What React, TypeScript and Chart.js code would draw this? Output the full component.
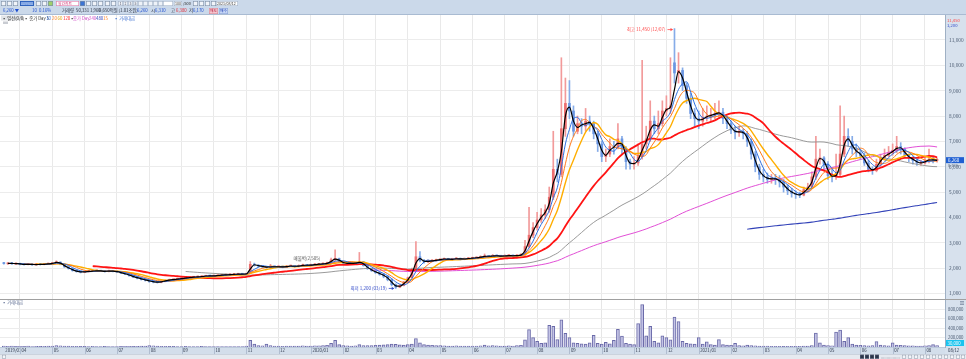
import React, { useEffect, useRef } from 'react';
import { Chart, registerables } from 'chart.js';

Chart.register(...registerables);

const FONT = '"Noto Sans CJK KR", "Noto Sans", sans-serif';

// ---- categories (month starts on the index axis, ~8 points per month) ----
const monthIdx = [0, 4, 12, 20, 28, 36, 44, 52, 60, 68, 76, 84, 92, 100, 108, 116, 124, 132, 140, 148, 156, 164, 172, 180, 188, 196, 204, 212, 220, 228];
const monthLabels = ['2019/03', '04', '05', '06', '07', '08', '09', '10', '11', '12', '2020/01', '02', '03', '04', '05', '06', '07', '08', '09', '10', '11', '12', '2021/01', '02', '03', '04', '05', '06', '07', '08'];

// ---- price series ----
const closes = [
  2180, 2200, 2170, 2190,
  2150, 2140, 2160, 2130, 2150, 2140, 2160, 2170,
  2200, 2250, 2150, 2050, 1980, 1900, 1860, 1840,
  1860, 1880, 1890, 1900, 1880, 1870, 1890, 1870,
  1850, 1800, 1760, 1700, 1650, 1600, 1560, 1520,
  1480, 1450, 1440, 1480, 1520, 1540, 1560, 1580,
  1600, 1620, 1640, 1650, 1660, 1680, 1700, 1690,
  1700, 1720, 1730, 1740, 1750, 1760, 1770, 1760,
  1780, 2150, 2120, 2080, 2050, 2030, 2060, 2050,
  2060, 2040, 2080, 2090, 2060, 2100, 2120, 2110,
  2130, 2150, 2160, 2180, 2200, 2330, 2380, 2250,
  2200, 2180, 2190, 2200, 2250, 2100, 1980, 1900,
  1820, 1760, 1680, 1550, 1350, 1250, 1320, 1450,
  1620, 1950, 2450, 2300, 2250, 2280, 2300, 2320,
  2350, 2370, 2340, 2360, 2380, 2350, 2370, 2390,
  2400, 2420, 2450, 2480, 2460, 2500, 2480, 2470,
  2490, 2500, 2480, 2510, 2520, 2850, 3300, 3600,
  3900, 4100, 4300, 4800, 5900, 5700, 7500, 8500,
  8200, 7400, 7700, 7600, 7800, 7700, 7300, 6900,
  6400, 6500, 6800, 6750, 7100, 6700, 6200, 6100,
  6150, 6400, 6900, 7100, 7800, 7500, 7700, 8200,
  8300, 8400, 9700, 9800, 9200, 8700, 8100, 7900,
  7800, 7950, 8000, 8050, 8100, 8150, 7900, 7700,
  7450, 7350, 7400, 7300, 7000, 6500, 6000, 5700,
  5600, 5500, 5550, 5500, 5400, 5200, 5050, 4950,
  4900, 4880, 5100, 5200, 5600, 6300, 6350, 6100,
  5650, 5600, 5700, 6500, 7200, 7000, 6700, 6550,
  6450, 6150, 5900, 5850, 6100, 6350, 6450, 6550,
  6650, 6800, 6700, 6450, 6350, 6250, 6150, 6150,
  6230, 6300, 6250, 6260,
];
const opens = [
  2200, 2170, 2210, 2160,
  2190, 2150, 2140, 2160, 2130, 2150, 2140, 2160,
  2170, 2200, 2240, 2150, 2050, 1980, 1910, 1870,
  1840, 1860, 1880, 1890, 1900, 1880, 1870, 1890,
  1870, 1850, 1800, 1760, 1700, 1650, 1600, 1560,
  1520, 1480, 1450, 1440, 1480, 1520, 1540, 1560,
  1580, 1600, 1620, 1640, 1650, 1660, 1680, 1700,
  1690, 1700, 1720, 1730, 1740, 1750, 1760, 1770,
  1760, 1790, 2150, 2120, 2080, 2050, 2030, 2060,
  2050, 2060, 2040, 2080, 2090, 2060, 2100, 2120,
  2110, 2130, 2150, 2160, 2180, 2200, 2330, 2380,
  2250, 2200, 2180, 2190, 2200, 2250, 2100, 1980,
  1900, 1820, 1760, 1680, 1550, 1350, 1250, 1320,
  1450, 1620, 1950, 2450, 2300, 2250, 2280, 2300,
  2320, 2350, 2370, 2340, 2360, 2380, 2350, 2370,
  2390, 2400, 2420, 2450, 2480, 2460, 2500, 2480,
  2470, 2490, 2500, 2480, 2510, 2520, 2850, 3300,
  3600, 3900, 4100, 4300, 4800, 5900, 5700, 7500,
  8500, 8200, 7400, 7700, 7600, 7800, 7700, 7300,
  6900, 6400, 6500, 6800, 6750, 7100, 6700, 6200,
  6100, 6150, 6400, 6900, 7100, 7800, 7500, 7700,
  8200, 8300, 10100, 9700, 9800, 9200, 8700, 8100,
  7900, 7800, 7950, 8000, 8050, 8100, 8150, 7900,
  7700, 7450, 7350, 7400, 7300, 7000, 6500, 6000,
  5700, 5600, 5500, 5550, 5500, 5400, 5200, 5050,
  4950, 4900, 4880, 5100, 5200, 5600, 6300, 6350,
  6100, 5650, 5600, 5700, 6500, 7200, 7000, 6700,
  6550, 6450, 6150, 5900, 5850, 6100, 6350, 6450,
  6550, 6650, 6800, 6700, 6450, 6350, 6250, 6150,
  6150, 6230, 6300, 6250,
];
const highs = [
  2230, 2220, 2230, 2210,
  2200, 2170, 2180, 2170, 2170, 2170, 2180, 2200,
  2230, 2290, 2250, 2160, 2070, 1990, 1930, 1880,
  1890, 1910, 1920, 1930, 1910, 1900, 1920, 1900,
  1890, 1870, 1820, 1780, 1720, 1680, 1620, 1580,
  1540, 1500, 1470, 1500, 1540, 1570, 1580, 1600,
  1620, 1650, 1660, 1670, 1690, 1700, 1720, 1720,
  1720, 1740, 1750, 1760, 1770, 1790, 1790, 1790,
  1800, 2260, 2200, 2140, 2100, 2080, 2150, 2090,
  2090, 2080, 2110, 2120, 2100, 2130, 2160, 2150,
  2160, 2180, 2190, 2210, 2240, 2400, 2720, 2400,
  2270, 2230, 2210, 2220, 2620, 2270, 2120, 2000,
  1930, 1850, 1790, 1700, 1580, 1380, 1350, 1480,
  1650, 2000, 3050, 2650, 2350, 2320, 2340, 2360,
  2380, 2400, 2390, 2390, 2420, 2400, 2400, 2420,
  2430, 2450, 2490, 2560, 2500, 2540, 2520, 2500,
  2520, 2530, 2520, 2540, 2560, 3100, 4400, 3800,
  4200, 4350, 4500, 5200, 7400, 6300, 10300, 9500,
  9400, 8400, 8000, 7900, 8300, 8000, 7800, 7400,
  7000, 6700, 7100, 7000, 7700, 7200, 6800, 6300,
  6400, 6900, 10200, 7600, 8600, 8000, 8200, 8600,
  8800, 10300, 11450, 10500, 9900, 9300, 8900, 8300,
  8200, 8300, 8400, 8300, 8500, 8600, 8300, 8000,
  7800, 7600, 7600, 7500, 7400, 7100, 6600, 6100,
  5900, 5750, 5700, 5700, 5650, 5500, 5300, 5150,
  5050, 5000, 5200, 5350, 5800, 7200, 6700, 6400,
  6200, 5900, 6500, 8400, 8000, 7500, 7200, 6900,
  6700, 6550, 6250, 6000, 6300, 6500, 6700, 6800,
  6900, 7200, 6950, 6750, 6500, 6400, 6300, 6250,
  6350, 6700, 6400, 6350,
];
const lows = [
  2160, 2150, 2150, 2150,
  2130, 2120, 2130, 2110, 2120, 2120, 2130, 2150,
  2160, 2190, 2130, 2030, 1960, 1880, 1840, 1810,
  1820, 1840, 1860, 1870, 1860, 1840, 1850, 1850,
  1830, 1780, 1740, 1680, 1620, 1580, 1530, 1490,
  1440, 1420, 1410, 1420, 1460, 1500, 1520, 1540,
  1560, 1580, 1600, 1610, 1630, 1640, 1660, 1670,
  1670, 1680, 1700, 1710, 1720, 1730, 1740, 1740,
  1750, 1780, 2080, 2050, 2020, 2000, 2010, 2020,
  2020, 2010, 2030, 2060, 2030, 2050, 2080, 2080,
  2090, 2110, 2120, 2140, 2160, 2190, 2290, 2230,
  2170, 2150, 2160, 2170, 2190, 2080, 1950, 1870,
  1790, 1720, 1620, 1500, 1300, 1200, 1230, 1300,
  1420, 1600, 1940, 2250, 2200, 2220, 2250, 2280,
  2300, 2320, 2320, 2310, 2340, 2320, 2330, 2360,
  2360, 2380, 2400, 2430, 2430, 2450, 2450, 2440,
  2450, 2460, 2450, 2470, 2480, 2500, 2800, 3200,
  3500, 3800, 3950, 4200, 4700, 5400, 5600, 7200,
  7900, 7200, 7300, 7300, 7400, 7400, 7100, 6600,
  6200, 6200, 6400, 6500, 6700, 6500, 5900, 5900,
  5900, 6050, 6300, 6700, 7000, 7300, 7300, 7600,
  8000, 8100, 9300, 9300, 9000, 8500, 7900, 7600,
  7500, 7600, 7800, 7800, 7900, 7900, 7700, 7500,
  7300, 7100, 7200, 7100, 6800, 6300, 5800, 5500,
  5400, 5350, 5350, 5300, 5200, 5000, 4900, 4800,
  4750, 4780, 4850, 5000, 5150, 5500, 6100, 5900,
  5500, 5400, 5500, 5650, 6400, 6800, 6500, 6400,
  6300, 6050, 5800, 5700, 5800, 6000, 6300, 6400,
  6450, 6550, 6500, 6350, 6200, 6100, 6050, 6050,
  6100, 6150, 6150, 6180,
];
const volumes = [
  20000, 15000, 18000, 12000,
  15000, 12000, 18000, 10000, 14000, 12000, 16000, 20000,
  22000, 30000, 25000, 20000, 18000, 15000, 14000, 12000,
  12000, 10000, 14000, 11000, 9000, 12000, 10000, 9000,
  10000, 12000, 15000, 14000, 12000, 16000, 18000, 20000,
  30000, 25000, 18000, 15000, 14000, 12000, 12000, 10000,
  10000, 12000, 11000, 10000, 9000, 12000, 11000, 10000,
  9000, 10000, 8000, 9000, 10000, 11000, 9000, 10000,
  20000, 140000, 60000, 30000, 25000, 60000, 30000, 20000,
  18000, 15000, 20000, 22000, 18000, 20000, 25000, 20000,
  22000, 25000, 24000, 30000, 35000, 80000, 140000, 50000,
  30000, 25000, 22000, 25000, 50000, 30000, 28000, 30000,
  35000, 40000, 45000, 50000, 60000, 55000, 45000, 40000,
  50000, 60000, 180000, 90000, 50000, 40000, 35000, 30000,
  30000, 25000, 22000, 20000, 25000, 22000, 20000, 18000,
  20000, 22000, 25000, 40000, 25000, 30000, 25000, 20000,
  22000, 25000, 20000, 30000, 35000, 150000, 370000, 200000,
  120000, 80000, 90000, 460000, 440000, 157000, 580000, 290000,
  200000, 90000, 80000, 70000, 60000, 90000, 250000, 80000,
  60000, 100000, 70000, 140000, 375000, 235000, 80000, 60000,
  50000, 500000, 905000, 240000, 440000, 120000, 90000, 240000,
  200000, 150000, 636000, 540000, 120000, 80000, 70000, 60000,
  200000, 60000, 110000, 50000, 40000, 160000, 50000, 40000,
  35000, 80000, 30000, 25000, 40000, 30000, 25000, 20000,
  20000, 18000, 15000, 14000, 15000, 12000, 14000, 15000,
  15000, 14000, 18000, 20000, 30000, 297000, 90000, 40000,
  30000, 25000, 320000, 360000, 120000, 200000, 60000, 40000,
  35000, 30000, 25000, 30000, 115000, 40000, 30000, 25000,
  90000, 40000, 35000, 30000, 25000, 25000, 20000, 22000,
  25000, 30000, 50000, 30000,
];

// ---- axis ticks / labels ----
const priceTicks = [1000, 2000, 3000, 4000, 5000, 6000, 7000, 8000, 9000, 10000, 11000];
const volTicks = [200000, 400000, 600000, 800000];
const maPeriods = [2, 4, 6, 9, 23, 46, 92, 185];
const peakDate = '12/07';
const lowDate = '03/19';
const resistText = '매물벽(2,505)';
const resistIdx = 75;
const resistPrice = 2400;
const lastDate = '08/12';

const X_MIN = -0.95;
const X_MAX = 232.96;

const fmt = (v: number) => Math.round(v).toLocaleString('en-US');

function sma(src: number[], n: number) {
  const out: { x: number; y: number }[] = [];
  let sum = 0;
  for (let i = 0; i < src.length; i++) {
    sum += src[i];
    if (i >= n) sum -= src[i - n];
    if (i >= n - 1) out.push({ x: i, y: sum / n });
  }
  return out;
}

const maStyles = [
  { color: '#000000', width: 1.2 },
  { color: '#2f6fe0', width: 1 },
  { color: '#ff7a1a', width: 1 },
  { color: '#ffae00', width: 1.4 },
  { color: '#ff1414', width: 1.8 },
  { color: '#8f8f8f', width: 0.9 },
  { color: '#e24fd6', width: 1 },
  { color: '#3242b8', width: 1.1 },
];

const isUp = (i: number) => closes[i] >= opens[i];

const xScaleBase = (gridColor: string) => ({
  type: 'linear' as const,
  min: X_MIN,
  max: X_MAX,
  offset: false,
  ticks: { display: false },
  grid: { color: gridColor, drawTicks: false, offset: false, lineWidth: 1 },
  border: { display: false },
  afterBuildTicks: (s: any) => {
    s.ticks = monthIdx.filter((v) => v > 0).map((v) => ({ value: v }));
  },
});

function drawText(ctx: CanvasRenderingContext2D, s: string, x: number, y: number, color: string, size = 4.5, align: CanvasTextAlign = 'left') {
  ctx.font = `${size}px ${FONT}`;
  ctx.fillStyle = color;
  ctx.textAlign = align;
  ctx.textBaseline = 'middle';
  ctx.fillText(s, x, y);
}

function PriceChart() {
  const ref = useRef<HTMLCanvasElement>(null);
  useEffect(() => {
    const idx = closes.map((_, i) => i);
    const maxHigh = Math.max(...highs);
    const minLow = Math.min(...lows);
    const peakIdx = highs.indexOf(maxHigh);
    const lowIdx = lows.indexOf(minLow);

    const deco = {
      id: 'priceDeco',
      beforeDraw(chart: any) {
        const { ctx, chartArea: a, width, height } = chart;
        ctx.save();
        ctx.fillStyle = '#ffffff';
        ctx.fillRect(0, 0, width, height);
        ctx.fillStyle = '#d7e1ed';
        ctx.fillRect(a.right, 0, width - a.right, height);
        ctx.restore();
      },
      afterDatasetsDraw(chart: any) {
        const { ctx } = chart;
        const xs = chart.scales.x;
        const ys = chart.scales.y;
        ctx.save();
        const arrow = (px: number, py: number, color: string) => {
          ctx.strokeStyle = color;
          ctx.fillStyle = color;
          ctx.lineWidth = 0.8;
          ctx.beginPath();
          ctx.moveTo(px - 7, py);
          ctx.lineTo(px - 2, py);
          ctx.stroke();
          ctx.beginPath();
          ctx.moveTo(px - 1.5, py);
          ctx.lineTo(px - 4, py - 1.6);
          ctx.lineTo(px - 4, py + 1.6);
          ctx.closePath();
          ctx.fill();
        };
        let px = xs.getPixelForValue(peakIdx);
        let py = ys.getPixelForValue(maxHigh) + 1;
        drawText(ctx, `최고 ${fmt(maxHigh)} (${peakDate})`, px - 9, py, '#ff4a4a', 4.5, 'right');
        arrow(px, py, '#ff4a4a');
        px = xs.getPixelForValue(lowIdx);
        py = ys.getPixelForValue(minLow);
        drawText(ctx, `최저 ${fmt(minLow)} (${lowDate})`, px - 9, py, '#3048c8', 4.5, 'right');
        arrow(px, py, '#3048c8');
        drawText(ctx, resistText, xs.getPixelForValue(resistIdx), ys.getPixelForValue(resistPrice), '#555555', 4.5, 'center');
        ctx.restore();
      },
      afterDraw(chart: any) {
        const { ctx, chartArea: a, width } = chart;
        const ys = chart.scales.y;
        const last = closes[closes.length - 1];
        const prev = closes[closes.length - 2];
        const y = ys.getPixelForValue(last);
        ctx.save();
        ctx.fillStyle = '#1f5fd2';
        ctx.fillRect(a.right + 1, y - 3, width - a.right - 3, 6);
        drawText(ctx, fmt(last), a.right + 3, y + 0.3, '#ffffff', 4.5);
        drawText(ctx, `${(((last - prev) / prev) * 100).toFixed(2)}%`, a.right + 3, y + 5, '#5a6a80', 3.8);
        drawText(ctx, fmt(Math.max(...highs)), a.right + 2, 5, '#ff4a4a', 4.2);
        drawText(ctx, fmt(Math.min(...lows)), a.right + 2, 10, '#3048c8', 4.2);
        // legend row
        const ly = 3;
        ctx.fillStyle = '#e1e4e8';
        ctx.fillRect(1, 0.5, 22, 5);
        drawText(ctx, '▪ 일선(0/0)', 2, ly, '#333333', 4.3);
        drawText(ctx, '▪ 종가 Day 5', 24, ly, '#333333', 4.3);
        drawText(ctx, '10', 46, ly, '#2f6fe0', 4.3);
        drawText(ctx, '20', 52, ly, '#ff7a1a', 4.3);
        drawText(ctx, '60', 57.5, ly, '#e0a000', 4.3);
        drawText(ctx, '120', 63, ly, '#ff1414', 4.3);
        drawText(ctx, '▪', 70, ly, '#333333', 4.3);
        drawText(ctx, '종가 Day', 73, ly, '#d050c8', 4.3);
        drawText(ctx, '240', 89, ly, '#d050c8', 4.3);
        drawText(ctx, '480', 96, ly, '#3242b8', 4.3);
        drawText(ctx, '15', 103, ly, '#ff7a1a', 4.3);
        drawText(ctx, '▪ 거래대금', 114, ly, '#3b6fd0', 4.3);
        ctx.fillStyle = '#c9ccd2';
        ctx.fillRect(3, 6.5, 5, 2.5);
        ctx.restore();
      },
    };

    const maSets = maPeriods.map((p, k) => ({
      type: 'line' as const,
      data: sma(closes, p),
      borderColor: maStyles[k].color,
      borderWidth: maStyles[k].width,
      pointRadius: 0,
      cubicInterpolationMode: 'monotone' as const,
      fill: false,
      order: 2 + k,
    }));

    const chart = new Chart(ref.current!, {
      type: 'bar',
      data: {
        datasets: [
          ...maSets,
          {
            type: 'bar' as const,
            data: idx.map((i) => ({ x: i, y: [lows[i], highs[i]] })) as any,
            backgroundColor: (c: any) => (isUp(c.dataIndex) ? '#f29a9a' : '#86ace8'),
            barThickness: 1,
            grouped: false,
            order: 30,
          },
          {
            type: 'bar' as const,
            data: idx.map((i) => ({ x: i, y: [Math.min(opens[i], closes[i]), Math.max(opens[i], closes[i])] })) as any,
            backgroundColor: (c: any) => (isUp(c.dataIndex) ? '#ec6f6f' : '#6b96e2'),
            barThickness: 2,
            minBarLength: 1,
            grouped: false,
            order: 29,
          },
        ] as any,
      },
      options: {
        animation: false,
        responsive: false,
        maintainAspectRatio: false,
        layout: { padding: 0 },
        plugins: { legend: { display: false }, tooltip: { enabled: false } },
        scales: {
          x: xScaleBase('#e9e9e9') as any,
          y: {
            type: 'linear',
            position: 'right',
            min: 783,
            max: 11986,
            ticks: { font: { size: 4.8, family: FONT }, color: '#4a5a70', padding: 4, callback: (v: any) => fmt(Number(v)) },
            grid: { color: '#ececec', drawTicks: false },
            border: { display: true, color: '#9fb0c4' },
            afterBuildTicks: (s: any) => {
              s.ticks = priceTicks.map((v) => ({ value: v }));
            },
            afterFit: (s: any) => {
              s.width = 21;
              s.paddingTop = 0;
              s.paddingBottom = 0;
            },
          } as any,
        },
      },
      plugins: [deco],
    });
    return () => chart.destroy();
  }, []);
  return <canvas ref={ref} width={966} height={284} style={{ display: 'block', width: 966, height: 284 }} />;
}

function VolumeChart() {
  const ref = useRef<HTMLCanvasElement>(null);
  useEffect(() => {
    const deco = {
      id: 'volDeco',
      beforeDraw(chart: any) {
        const { ctx, chartArea: a, width, height } = chart;
        ctx.save();
        ctx.fillStyle = '#ffffff';
        ctx.fillRect(0, 0, width, height);
        ctx.fillStyle = '#d7e1ed';
        ctx.fillRect(a.right, 0, width - a.right, height);
        ctx.fillStyle = '#d3deeb';
        ctx.fillRect(0, a.bottom, a.right, height - a.bottom);
        ctx.restore();
      },
      afterDraw(chart: any) {
        const { ctx, chartArea: a, width, height } = chart;
        const xs = chart.scales.x;
        const ys = chart.scales.y;
        ctx.save();
        ctx.fillStyle = '#a0a0a0';
        ctx.fillRect(0, 0, width, 1);
        drawText(ctx, '▪ 거래대금', 2, 3.5, '#5a6a90', 4.3);
        ctx.fillStyle = '#aebcd0';
        ctx.fillRect(0, a.bottom, a.right, 0.6);
        const midY = a.bottom + (height - a.bottom) / 2;
        monthIdx.forEach((m, k) => {
          const x = xs.getPixelForValue(m);
          if (m > 0) {
            ctx.fillStyle = '#b0bdd0';
            ctx.fillRect(Math.round(x), a.bottom, 1, height - a.bottom);
          }
          drawText(ctx, monthLabels[k], Math.max(1, x + 1.5), midY, '#2a3448', 4.3);
        });
        const lastV = volumes[volumes.length - 1];
        const vy = Math.min(ys.getPixelForValue(lastV), a.bottom - 4);
        ctx.fillStyle = '#19c4ef';
        ctx.fillRect(a.right + 1, vy - 3, width - a.right - 3, 6);
        drawText(ctx, fmt(lastV), a.right + 2.5, vy, '#ffffff', 4.3);
        drawText(ctx, lastDate, a.right + 3, midY, '#2a3448', 4.3);
        ctx.fillStyle = '#7d8ca3';
        ctx.fillRect(width - 6, 2, 4, 0.8);
        ctx.fillRect(width - 6, 3.6, 4, 0.8);
        ctx.fillRect(width - 6, 5.2, 4, 0.8);
        ctx.restore();
      },
    };
    const chart = new Chart(ref.current!, {
      type: 'bar',
      data: {
        datasets: [
          {
            data: volumes.map((v, i) => ({ x: i, y: v })) as any,
            backgroundColor: '#c4c4e6',
            borderColor: '#6a6aa8',
            borderWidth: 1,
            barThickness: 3,
            grouped: false,
          },
        ],
      },
      options: {
        animation: false,
        responsive: false,
        maintainAspectRatio: false,
        layout: { padding: { top: 1, bottom: 7, left: 0, right: 0 } },
        plugins: { legend: { display: false }, tooltip: { enabled: false } },
        scales: {
          x: xScaleBase('#e6e6e6') as any,
          y: {
            type: 'linear',
            position: 'right',
            min: 0,
            max: 1000000,
            ticks: { font: { size: 4.3, family: FONT }, color: '#4a5a70', padding: 3, callback: (v: any) => fmt(Number(v)) },
            grid: { color: '#ececec', drawTicks: false },
            border: { display: true, color: '#9fb0c4' },
            afterBuildTicks: (s: any) => {
              s.ticks = volTicks.map((v) => ({ value: v }));
            },
            afterFit: (s: any) => {
              s.width = 21;
              s.paddingTop = 0;
              s.paddingBottom = 0;
            },
          } as any,
        },
      },
      plugins: [deco],
    });
    return () => chart.destroy();
  }, []);
  return <canvas ref={ref} width={966} height={55} style={{ display: 'block', width: 966, height: 55 }} />;
}

function Toolbar() {
  const ref = useRef<HTMLCanvasElement>(null);
  useEffect(() => {
    const ctx = ref.current!.getContext('2d')!;
    const last = closes[closes.length - 1];
    const prev = closes[closes.length - 2];
    const diff = last - prev;
    ctx.fillStyle = '#cbd9ea';
    ctx.fillRect(0, 0, 966, 15);
    ctx.fillStyle = '#a9bbd2';
    ctx.fillRect(0, 14, 966, 1);
    const box = (x: number, w: number, fill: string, stroke: string, y = 1, h = 5) => {
      ctx.fillStyle = fill;
      ctx.fillRect(x, y, w, h);
      ctx.strokeStyle = stroke;
      ctx.lineWidth = 0.6;
      ctx.strokeRect(x + 0.3, y + 0.3, w - 0.6, h - 0.6);
    };
    const icon = (x: number, fill = '#f1f4f9') => box(x, 5, fill, '#7b8da6');
    [1, 7, 13].forEach((x) => icon(x));
    box(20, 14, '#3b74d4', '#2a5ab0');
    drawText(ctx, '008800', 21, 3.6, '#ffffff', 3.6);
    icon(36);
    icon(42);
    icon(48, '#9fd06a');
    box(56, 23, '#ffffff', '#e07aa8');
    drawText(ctx, '일간차트', 58, 3.6, '#d0407a', 3.8);
    icon(80, '#3b74d4');
    [86, 92, 98, 105, 111].forEach((x) => icon(x));
    ['1', '2', '3', '5', '', '', '', '', ''].forEach((t, k) => {
      box(118 + k * 5, 5, '#eef2f8', '#a2b2c8');
      if (t) drawText(ctx, t, 120.5 + k * 5, 3.6, '#556', 3.6, 'center');
    });
    box(163, 10, '#ffffff', '#a2b2c8');
    box(174, 8, '#ffffff', '#a2b2c8');
    drawText(ctx, '100', 175, 3.6, '#333', 3.6);
    drawText(ctx, '/500', 183, 3.6, '#333', 3.8);
    [193, 199, 205, 211].forEach((x) => icon(x));
    box(216, 22, '#ffffff', '#a2b2c8');
    drawText(ctx, '2021/08/12', 217, 3.6, '#333', 3.6);

    const ry = 10.8;
    drawText(ctx, `${fmt(last)} ▼`, 3, ry, '#1f4fd0', 4.3);
    drawText(ctx, fmt(Math.abs(diff)), 32, ry, '#1f4fd0', 4.3);
    drawText(ctx, `${((diff / prev) * 100).toFixed(2)}%`, 39, ry, '#1f4fd0', 4.3);
    drawText(ctx, '거래량', 62, ry, '#2a3040', 4.3);
    drawText(ctx, '50,331', 76, ry, '#2a3040', 4.3);
    drawText(ctx, '1,960', 90, ry, '#2a3040', 4.3);
    drawText(ctx, '6,650억원 (1.01조원)', 99, ry, '#2a3040', 4.3);
    drawText(ctx, fmt(last), 137, ry, '#1f4fd0', 4.3);
    drawText(ctx, '시', 151, ry, '#2a3040', 4.3);
    drawText(ctx, '6,310', 155, ry, '#1f4fd0', 4.3);
    drawText(ctx, '고', 171, ry, '#2a3040', 4.3);
    drawText(ctx, '6,380', 176, ry, '#e0303a', 4.3);
    drawText(ctx, '저', 189, ry, '#2a3040', 4.3);
    drawText(ctx, '6,170', 193, ry, '#1f4fd0', 4.3);
    box(209, 9, '#f6c6cf', '#d88a98', 8, 6);
    drawText(ctx, '매도', 213.5, ry, '#b02040', 3.8, 'center');
    box(219, 9, '#c6d6f6', '#8aa2d8', 8, 6);
    drawText(ctx, '매수', 223.5, ry, '#2040b0', 3.8, 'center');
  }, []);
  return <canvas ref={ref} width={966} height={15} style={{ display: 'block', width: 966, height: 15 }} />;
}

function ScrollStrip() {
  const ref = useRef<HTMLCanvasElement>(null);
  useEffect(() => {
    const ctx = ref.current!.getContext('2d')!;
    ctx.fillStyle = '#e6eaf0';
    ctx.fillRect(0, 0, 966, 5);
    ctx.fillStyle = '#b9c3d0';
    ctx.fillRect(0, 0, 966, 0.6);
    const sq = (x: number, fill: string, stroke: string) => {
      ctx.fillStyle = fill;
      ctx.fillRect(x, 0.8, 4, 3.8);
      ctx.strokeStyle = stroke;
      ctx.lineWidth = 0.5;
      ctx.strokeRect(x + 0.25, 1.05, 3.5, 3.3);
    };
    sq(2, '#f4f6f9', '#8a96a8');
    [860, 865, 870, 875].forEach((x) => sq(x, '#2c3548', '#55607a'));
    ctx.strokeStyle = '#667';
    ctx.setLineDash([0.6, 0.6]);
    ctx.beginPath();
    ctx.moveTo(881, 4);
    ctx.lineTo(900, 4);
    ctx.stroke();
    ctx.setLineDash([]);
    [902, 908, 914, 920, 926, 932, 938, 944, 950, 956, 961].forEach((x) => sq(x, '#f4f6f9', '#8a96a8'));
  }, []);
  return <canvas ref={ref} width={966} height={5} style={{ display: 'block', width: 966, height: 5 }} />;
}

const abs = (left: number, top: number, w: number, h: number): React.CSSProperties => ({
  position: 'absolute',
  left,
  top,
  width: w,
  height: h,
});

export default function App() {
  return (
    <div style={{ position: 'fixed', left: 0, top: 0, width: 966, height: 359, overflow: 'hidden', background: '#fff', fontFamily: FONT }}>
      <div style={abs(0, 0, 966, 15)}>
        <Toolbar />
      </div>
      <div style={abs(0, 15, 966, 284)}>
        <PriceChart />
      </div>
      <div style={abs(0, 299, 966, 55)}>
        <VolumeChart />
      </div>
      <div style={abs(0, 354, 966, 5)}>
        <ScrollStrip />
      </div>
    </div>
  );
}
